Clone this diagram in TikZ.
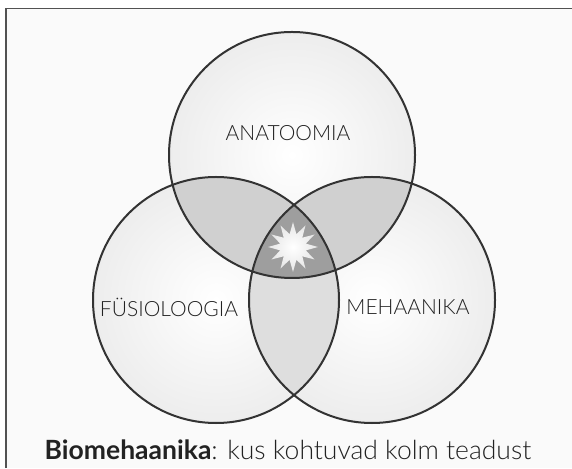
\documentclass[tikz,border=0pt]{standalone}
\usepackage{fontspec}
\setmainfont{Lato}[UprightFont=* Light, BoldFont=* Bold]
\usepackage{tikz}
\usetikzlibrary{shapes.geometric}
\definecolor{ringline}{HTML}{333333}
\definecolor{paper}{HTML}{FAFAFA}
\definecolor{single}{HTML}{EDEDED}
\definecolor{pair}{HTML}{D0D0D0}
\definecolor{lens}{HTML}{DEDEDE}
\definecolor{core}{HTML}{9E9E9E}
\definecolor{labeltext}{HTML}{222222}

\begin{document}
\begin{tikzpicture}[
    x=1pt, y=1pt,
    font=\fontsize{21}{25}\selectfont,
    ring/.style={draw=ringline, line width=2pt},
    lbl/.style={text=labeltext, inner sep=0pt},
    burst/.style={star, star points=12, star point ratio=1.9, minimum size=50pt,
      inner sep=0pt, shade, inner color=white, outer color=black!10}
  ]
    \useasboundingbox (0,0) rectangle (572,468);
    % Cadre
    \fill[white] (0,0) rectangle (572,468);
    \fill[paper] (6,0) rectangle (572,459.5);
    \draw[ringline!85, line width=1.6pt] (6,0) |- (572,459.5);
    % Centres des cercles
    \def\ringr{123}
    \coordinate (ana) at (292,313);
    \coordinate (fys) at (216,168);
    \coordinate (meh) at (372,168);
    % Surfaces
    \foreach \c in {ana,fys,meh}
      \shade[inner color=white, outer color=single] (\c) circle (\ringr);
    \begin{scope}
      \clip (fys) circle (\ringr);
      \fill[lens] (meh) circle (\ringr);
    \end{scope}
    \begin{scope}
      \clip (ana) circle (\ringr);
      \fill[pair] (fys) circle (\ringr);
      \fill[pair] (meh) circle (\ringr);
    \end{scope}
    \begin{scope}
      \clip (ana) circle (\ringr);
      \clip (fys) circle (\ringr);
      \fill[core] (meh) circle (\ringr);
    \end{scope}
    % Contours
    \foreach \c in {ana,fys,meh}
      \draw[ring] (\c) circle (\ringr);
    % Etoile
    \node[burst] (tahe) at (293,221) {};
    % Textes
    \node[lbl] (anatoomia) at (288,335) {ANATOOMIA};
    \node[lbl] (fysioloogia) at (169,161) {FÜSIOLOOGIA};
    \node[lbl] (mehaanika) at (408,161) {MEHAANIKA};
    \node[lbl, font=\fontsize{26.5}{30}\selectfont] (pealkiri) at (288,18)
      {\textbf{Biomehaanika}: kus kohtuvad kolm teadust};
\end{tikzpicture}
\end{document}
